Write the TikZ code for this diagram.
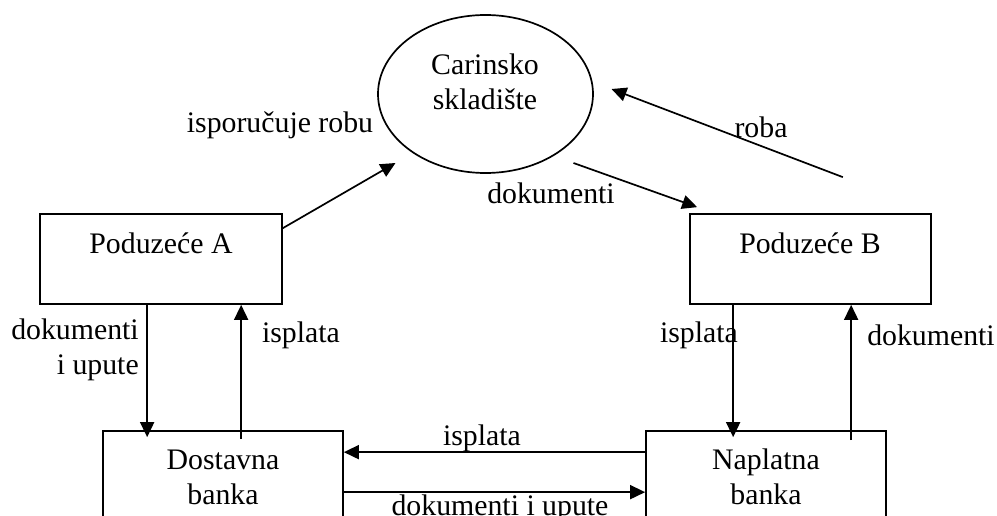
\documentclass[tikz,border=0pt]{standalone}
\usepackage{fontspec}
\setmainfont{Liberation Serif}
\usetikzlibrary{arrows.meta,shapes.geometric,calc}

\tikzset{
  every node/.style={font=\fontsize{29.8}{35}\selectfont, inner sep=0pt},
  box/.style={draw, rectangle, line width=1.7pt},
  store/.style={draw, ellipse, line width=1.7pt},
  txt/.style={align=center},
  flow/.style={line width=1.7pt, -{Triangle[length=15pt,width=14pt]}}
}

\begin{document}
\begin{tikzpicture}[x=1pt,y=-1pt]
  \useasboundingbox (0,0) rectangle (997,516);

  % customs warehouse
  \node[store, minimum width=215pt, minimum height=158pt] (C) at (485.5,94) {};
  \node[txt] (Ct) at (485,82) {Carinsko\\skladište};

  % companies
  \node[box, minimum width=242pt, minimum height=90pt] (A) at (161,259) {};
  \node (At) at (161,243) {Poduzeće A};
  \node[box, minimum width=241pt, minimum height=90pt] (B) at (810.5,259) {};
  \node (Bt) at (810,243) {Poduzeće B};

  % banks (cut off by the lower page edge)
  \node[box, minimum width=240pt, minimum height=100pt] (D) at (223,481) {};
  \node[txt] (Dt) at (223,477) {Dostavna\\banka};
  \node[box, minimum width=240pt, minimum height=100pt] (N) at (766,481) {};
  \node[txt] (Nt) at (766,477) {Naplatna\\banka};

  % goods and documents around the warehouse
  \draw[flow] ($(A.north east)+(0,15)$) -- ($(C.center)+(-90,69)$);
  \node (l1) at (280,125) {isporučuje robu};
  \draw[flow] ($(C.center)+(88,69)$) -- ($(B.north west)+(8,-6)$);
  \node (l2) at (551,193) {dokumenti};
  \draw[flow] ($(B.north east)+(-89,-36)$) -- ($(C.center)+(126,-5)$);
  \node (l3) at (761,127) {roba};

  % company A <-> delivering bank
  \draw[flow] ($(A.south west)+(108,0)$) -- ($(D.north west)+(45,7)$);
  \node[txt, align=right] (l4) at (75,350) {dokumenti\\i upute};
  \draw[flow] ($(D.north west)+(139,9)$) -- ($(A.south west)+(202,0)$);
  \node (l5) at (301,335) {isplata};

  % company B <-> collecting bank
  \draw[flow] ($(B.south west)+(44,0)$) -- ($(N.north west)+(88,7)$);
  \node (l6) at (699,335) {isplata};
  \draw[flow] ($(N.north west)+(206,10)$) -- ($(B.south west)+(162,0)$);
  \node (l7) at (931,335) {dokumenti};

  % bank to bank
  \draw[flow] ($(N.north west)+(0,22)$) -- ($(D.north east)+(0,22)$);
  \node (l8) at (482,438) {isplata};
  \draw[flow] ($(D.north east)+(0,62)$) -- ($(N.north west)+(0,62)$);
  \node (l9) at (500,508) {dokumenti i upute};
\end{tikzpicture}
\end{document}
